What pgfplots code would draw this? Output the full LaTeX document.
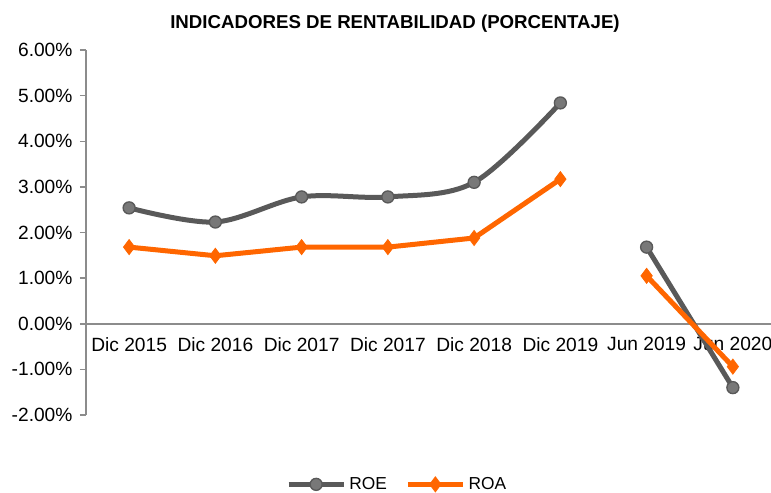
\documentclass[border=0pt]{standalone}
\usepackage{fontspec}
\setmainfont{Liberation Sans}
\usepackage{pgfplots}
\pgfplotsset{compat=1.18}
\definecolor{roe}{RGB}{89,89,89}
\definecolor{roefill}{RGB}{120,120,120}
\definecolor{roa}{RGB}{255,102,0}
\definecolor{axgray}{RGB}{140,140,140}
\begin{document}
\begin{tikzpicture}
\begin{axis}[
  at={(0,0)}, anchor=south west,
  scale only axis, width=414pt, height=219pt,
  xmin=-0.5, xmax=7.5, ymin=-2, ymax=6,
  axis x line*=middle, axis y line*=left,
  axis line style={axgray, line width=0.9pt},
  xtick={0,...,7},
  xticklabels={Dic 2015,Dic 2016,Dic 2017,Dic 2017,Dic 2018,Dic 2019,Jun 2019,Jun 2020},
  x tick style={draw=none},
  extra x ticks={0.5,1.5,2.5,3.5,4.5,5.5,6.5},
  extra x tick labels={},
  extra x tick style={tick style={draw=axgray, line width=0.9pt}, major tick length=3.6pt, tick align=outside},
  ytick={-2,-1,0,1,2,3,4,5,6},
  y tick style={draw=axgray, line width=0.9pt},
  major tick length=3.6pt, tick align=outside,
  /pgf/number format/assume math mode=true,
  yticklabel={\pgfmathprintnumber[fixed,fixed zerofill,precision=2]{\tick}\%},
  ticklabel style={font=\fontsize{11.5}{13}\selectfont, text=black},
  yticklabel style={xshift=-1pt},
  xticklabel style={yshift=-1pt},
  clip=false,
  legend style={at={(0.452,-0.19)}, anchor=center, draw=none, legend columns=2,
    font=\fontsize{10.4}{12}\selectfont, /tikz/every even column/.append style={column sep=9pt}},
  legend image code/.code={\draw[mark repeat=2,mark phase=2,#1] plot coordinates {(0pt,0pt) (16.5pt,0pt) (33pt,0pt)};},
]
\addplot[roe, line width=3pt, smooth, tension=0.55, mark=*, mark size=3.6pt,
  mark options={fill=roefill, draw=roe, line width=0.8pt}]
  coordinates {(0,2.54) (1,2.23) (2,2.78) (3,2.78) (4,3.10) (5,4.84)};
\addlegendentry{ROE}
\addplot[roa, line width=3pt, mark=diamond*, mark size=4.5pt,
  mark options={fill=roa, draw=roa, line width=0.5pt}]
  coordinates {(0,1.68) (1,1.49) (2,1.68) (3,1.68) (4,1.88) (5,3.17)};
\addlegendentry{ROA}
\addplot[roe, line width=3pt, mark=*, mark size=3.6pt, forget plot,
  mark options={fill=roefill, draw=roe, line width=0.8pt}]
  coordinates {(6,1.68) (7,-1.40)};
\addplot[roa, line width=3pt, mark=diamond*, mark size=4.5pt, forget plot,
  mark options={fill=roa, draw=roa, line width=0.5pt}]
  coordinates {(6,1.05) (7,-0.94)};
\node[font=\bfseries\fontsize{11.2}{13}\selectfont, anchor=center] at (185.4pt,235pt) {INDICADORES DE RENTABILIDAD (PORCENTAJE)};
\end{axis}
\pgfresetboundingbox
\path[use as bounding box] (-51.6pt,-46.2pt) rectangle (411pt,249pt);
\end{tikzpicture}
\end{document}
